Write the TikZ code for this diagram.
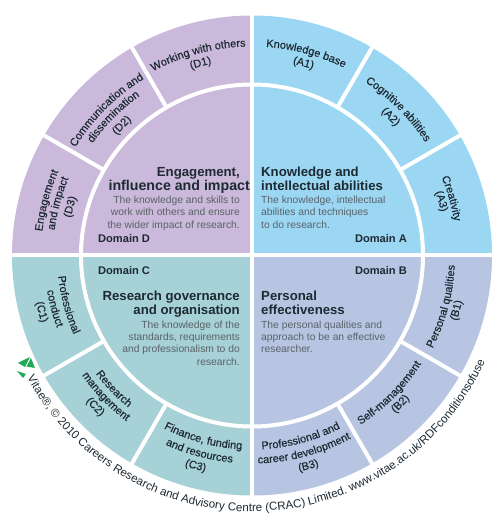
\documentclass[tikz,border=0pt]{standalone}
\usepackage{fontspec}
\setmainfont{Liberation Sans}
\newfontfamily\ringfont[FakeBold=0.4]{Liberation Sans}
\usetikzlibrary{decorations.text}
\definecolor{domA}{HTML}{9BD7F3}
\definecolor{domB}{HTML}{B8C5E2}
\definecolor{domC}{HTML}{A6D1D6}
\definecolor{domD}{HTML}{CAB9DA}
\definecolor{inkdark}{HTML}{1E2A33}
\definecolor{inkgrey}{HTML}{5A6268}
\definecolor{logogreen}{HTML}{1FAA59}
\newcommand\sectorfill[3]{\fill[#1] (0,0) -- (#2:240) arc[start angle=#2,end angle=#3,radius=240] -- cycle;}
\newcommand\upperlabel[3]{\path[decorate,decoration={text along path,text align=center,text color=inkdark,text={|\ringfont\fontsize{11bp}{13bp}\selectfont|#3}}] (#2+45:#1) arc[start angle=#2+45,end angle=#2-45,radius=#1];}
\newcommand\lowerlabel[3]{\path[decorate,decoration={text along path,text align=center,text color=inkdark,text={|\ringfont\fontsize{11bp}{13bp}\selectfont|#3}}] (#2-45:#1) arc[start angle=#2-45,end angle=#2+45,radius=#1];}
\tikzset{
  x=1bp,y=1bp,
  titletext/.style={inner sep=0pt,text=inkdark,font=\bfseries\fontsize{13.2bp}{14bp}\selectfont},
  desctext/.style={inner sep=0pt,text=inkgrey,font=\fontsize{10.3bp}{12.3bp}\selectfont},
  domaintext/.style={inner sep=0pt,text=inkdark,font=\bfseries\fontsize{11.1bp}{13bp}\selectfont},
  gapline/.style={draw=white,line width=4bp},
}
\begin{document}
\begin{tikzpicture}
\useasboundingbox (-252,-275.5) rectangle (248,255.5);
\fill[white] (-252,-275.5) rectangle (248,255.5);
\sectorfill{domA}{0}{90}
\sectorfill{domD}{90}{180}
\sectorfill{domC}{180}{270}
\sectorfill{domB}{270}{360}
\foreach \a in {15,45,75,105,135,165,195,225,255,285,315,345}{
  \pgfmathsetmacro\b{\a+15}
  \draw[gapline] (\b:171) -- (\b:242);
}
\draw[gapline] (0,0) circle[radius=171];
\draw[gapline] (-242,0) -- (242,0);
\draw[gapline] (0,-242) -- (0,242);
% ring labels
\upperlabel{209}{75}{Knowledge base}
\upperlabel{196}{75}{(A1)}
\upperlabel{207}{45}{Cognitive abilities}
\upperlabel{193}{45}{(A2)}
\upperlabel{205}{16}{Creativity}
\upperlabel{194}{16}{(A3)}
\upperlabel{209}{105}{Working with others}
\upperlabel{196}{105}{(D1)}
\upperlabel{207}{135}{Communication and}
\upperlabel{195}{135}{dissemination}
\upperlabel{181}{135}{(D2)}
\upperlabel{211}{165}{Engagement}
\upperlabel{199}{165}{and impact}
\upperlabel{185}{165}{(D3)}
\lowerlabel{195}{195}{Professional}
\lowerlabel{208}{195}{conduct}
\lowerlabel{221}{195}{(C1)}
\lowerlabel{196}{224}{Research}
\lowerlabel{208}{224}{management}
\lowerlabel{221}{224}{(C2)}
\lowerlabel{194}{255}{Finance, funding}
\lowerlabel{208}{255}{and resources}
\lowerlabel{221}{255}{(C3)}
\lowerlabel{194}{285}{Professional and}
\lowerlabel{208}{285}{career development}
\lowerlabel{221}{285}{(B3)}
\lowerlabel{201}{315}{Self-management}
\lowerlabel{213}{315}{(B2)}
\lowerlabel{203}{345}{Personal qualities}
\lowerlabel{215}{345}{(B1)}
% domain A
\node[titletext,align=left,anchor=north west] (titleA) at (9,88.5) {Knowledge and\\intellectual abilities};
\node[desctext,align=left,anchor=north west] (descA) at (9,59.5) {The knowledge, intellectual\\abilities and techniques\\to do research.};
\node[domaintext,anchor=base east] (domainA) at (155,12.5) {Domain A};
% domain D
\node[titletext,align=right,anchor=north east] (titleD) at (-2,88.5) {Engagement,\hspace*{10bp}\\\fontsize{14.2bp}{14bp}\selectfont influence and impact};
\node[desctext,align=right,anchor=north east] (descD) at (-12,59.5) {The knowledge and skills to\\work with others and ensure\\the wider impact of research.};
\node[domaintext,anchor=base west] (domainD) at (-154,12.5) {Domain D};
% domain C
\node[domaintext,anchor=base west] (domainC) at (-154,-19.5) {Domain C};
\node[titletext,align=right,anchor=north east] (titleC) at (-12,-35) {Research governance\\and organisation};
\node[desctext,align=right,anchor=north east] (descC) at (-12,-65) {The knowledge of the\\standards, requirements\\and professionalism to do\\research.};
% domain B
\node[domaintext,anchor=base east] (domainB) at (155,-19.5) {Domain B};
\node[titletext,align=left,anchor=north west] (titleB) at (9,-35) {Personal\\effectiveness};
\node[desctext,align=left,anchor=north west] (descB) at (9,-65) {The personal qualities and\\approach to be an effective\\researcher.};
% copyright
\path[decorate,decoration={text along path,text align=center,text color=inkdark,text={|\fontsize{11.6bp}{14bp}\selectfont|Vitae®, © 2010 Careers Research and Advisory Centre (CRAC) Limited. www.vitae.ac.uk/RDFconditionsofuse}}] (197:256) arc[start angle=197,end angle=347,radius=256];
% logo
\fill[logogreen] (-234,-107.5) -- (-222,-101.5) -- (-227,-111.5) -- cycle;
\fill[logogreen] (-221,-102.5) -- (-217,-112.5) -- (-225.5,-111) -- cycle;
\fill[logogreen] (-235,-115.5) -- (-226,-118.5) -- (-229,-122.5) -- cycle;
\end{tikzpicture}
\end{document}
